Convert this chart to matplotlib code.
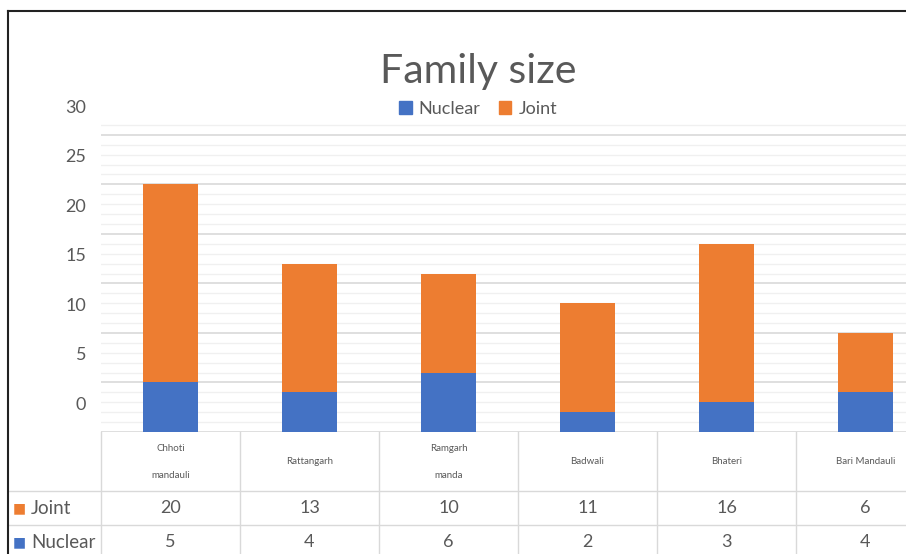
import matplotlib.pyplot as plt
import matplotlib.transforms as mtransforms
from matplotlib.patches import Patch
from matplotlib.lines import Line2D

villages = ['Chhoti\n\nmandauli', 'Rattangarh', 'Ramgarh\n\nmanda', 'Badwali', 'Bhateri', 'Bari Mandauli']
nuclear = [5, 4, 6, 2, 3, 4]
joint = [20, 13, 10, 11, 16, 6]
yticks = [0, 5, 10, 15, 20, 25, 30]

blue = '#4472C4'
orange = '#ED7D31'
grey = '#595959'
line_col = '#d9d9d9'

plt.rcParams['font.family'] = ['Lato', 'DejaVu Sans']

W, H = 906, 554
fig = plt.figure(figsize=(W / 100, H / 100), dpi=100)

def fx(px):
    return px / W

def fy(px):
    return 1 - px / H

# plot area (runs a bit past the right edge)
ax = fig.add_axes([fx(101), fy(432), fx(834), (432 - 121) / H])
x = list(range(len(villages)))
ax.bar(x, nuclear, width=0.4, color=blue, zorder=3)
ax.bar(x, joint, width=0.4, bottom=nuclear, color=orange, zorder=3)
ax.set_xlim(-0.5, len(villages) - 0.5)
ax.set_ylim(0, 31.4)

for v in range(1, 32):
    major = v % 5 == 0
    ax.axhline(v, color=line_col if major else '#f0f0f0',
               lw=1.2 if major else 1.0, zorder=1)
ax.axhline(0, color=line_col, lw=1.2, zorder=1)

for s in ax.spines.values():
    s.set_visible(False)
ax.set_xticks([])
ax.set_yticks([])

# value axis labels sit a little above their gridlines
shift = mtransforms.ScaledTranslation(0, 0.27, fig.dpi_scale_trans)
ytrans = mtransforms.blended_transform_factory(ax.transAxes, ax.transData) + shift
for v in yticks:
    ax.text(-0.018, v, str(v), transform=ytrans, ha='right', va='center',
            fontsize=13, color=grey)

# data table under the bars
tab = fig.add_axes([fx(101), fy(559), fx(834), 127 / H])
tab.set_xlim(-0.5, len(villages) - 0.5)
tab.set_ylim(127, 0)
tab.axis('off')
left = -0.5 - 93 / 139

for i in range(len(villages) + 1):
    tab.plot([i - 0.5, i - 0.5], [0, 127], color=line_col, lw=1, clip_on=False)
for yy in (59, 93):
    tab.plot([left, len(villages) - 0.5], [yy, yy], color=line_col, lw=1, clip_on=False)

for i, name in enumerate(villages):
    tab.text(i, 30, name, ha='center', va='center', fontsize=7,
             color=grey, linespacing=1.6)
    tab.text(i, 76, str(joint[i]), ha='center', va='center', fontsize=13, color=grey)
    tab.text(i, 110, str(nuclear[i]), ha='center', va='center', fontsize=13, color=grey)

for yy, label, col in ((76, 'Joint', orange), (110, 'Nuclear', blue)):
    tab.text(left + 5 / 139, yy, '\u25A0', ha='left', va='center', fontsize=10,
             color=col, clip_on=False)
    tab.text(left + 23 / 139, yy, label, ha='left', va='center', fontsize=13.5,
             color=grey, clip_on=False)

fig.text(fx(478), fy(72), 'Family size', ha='center', va='center', fontsize=29.5, color=grey)
fig.legend(handles=[Patch(color=blue, label='Nuclear'), Patch(color=orange, label='Joint')],
           loc='center', bbox_to_anchor=(fx(478), fy(109)), ncol=2, frameon=False,
           fontsize=13, handlelength=0.7, handleheight=0.7, handletextpad=0.4,
           columnspacing=1.0, labelcolor=grey)

# outer frame (top and left edges)
fig.add_artist(Line2D([fx(8), 1], [fy(11), fy(11)], color='#222222', lw=1.5))
fig.add_artist(Line2D([fx(8), fx(8)], [fy(11), 0], color='#222222', lw=1.5))

fig.savefig('out.png', dpi=100, facecolor='white')
